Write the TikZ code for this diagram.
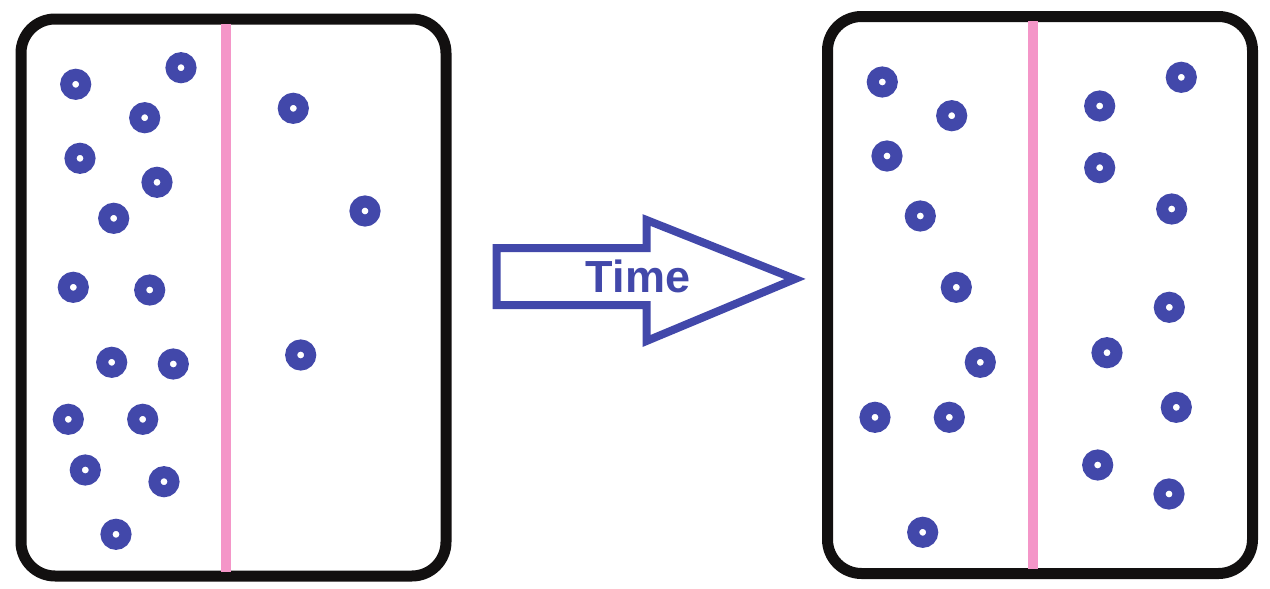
\documentclass[tikz,border=0pt]{standalone}
\usepackage{fontspec}
\setmainfont{Liberation Sans}
\definecolor{molblue}{RGB}{66,72,170}
\definecolor{wallpink}{RGB}{244,150,200}
\definecolor{boxblack}{RGB}{18,16,16}
\tikzset{
	container/.style={rectangle, rounded corners=34pt, draw=boxblack, line width=11pt, minimum width=425pt, minimum height=557pt, inner sep=0pt},
	divider/.style={wallpink, line width=10pt, shorten <=10pt, shorten >=10pt},
	molecule/.style={circle, draw=molblue, line width=12pt, minimum size=19pt, inner sep=0pt},
	timearrow/.style={draw=molblue, line width=8pt, line join=miter}
}
\begin{document}
\begin{tikzpicture}[x=1pt, y=-1pt]
				% fixed frame of the picture
				\useasboundingbox (0,0) rectangle (1270,589);

				% Before container with divider
				\node[container] (before) at (233.5,297.5) {};
				\draw[divider] ([xshift=-7.5pt]before.north) -- ([xshift=-7.5pt]before.south);

				% After container with divider
				\node[container] (after) at (1040,295) {};
				\draw[divider] ([xshift=-7.3pt]after.north) -- ([xshift=-7.3pt]after.south);

				% Molecules before
				\foreach \x/\y [count=\i] in {75.7/84.3, 181/67.7, 144.7/117.7, 80/158.3, 157/182.3, 113.7/218.3, 73.3/287.3, 149.7/290, 111.7/362.3, 173.3/364, 68.3/419.3, 142.7/419.3, 85.3/470, 164/481.7, 116/534.3, 293.3/108.3, 365/211, 300.7/355}
					\node[molecule] (b\i) at (\x,\y) {};

				% Molecules after
				\foreach \x/\y [count=\i] in {882.3/82, 951.7/115.7, 887/156, 920.3/216, 956.3/287.3, 980.3/362.3, 875/417.3, 949.3/417.3, 922.7/532.3, 1181.3/77.3, 1099.7/106, 1099.7/167.7, 1171.7/209, 1169.3/307.3, 1107/352.7, 1176.3/407.3, 1097.7/465, 1169/494}
					\node[molecule] (a\i) at (\x,\y) {};

				% Time arrow
				\draw[timearrow] (496.5,248) -- (646.5,248) -- (646.5,220) -- (795,279) -- (646.5,341) -- (646.5,305) -- (496.5,305) -- cycle;
				\node[text=molblue, font=\fontsize{45}{52}\selectfont\bfseries, inner sep=0pt] (time) at (638,276) {Time};
			\end{tikzpicture}
\end{document}
